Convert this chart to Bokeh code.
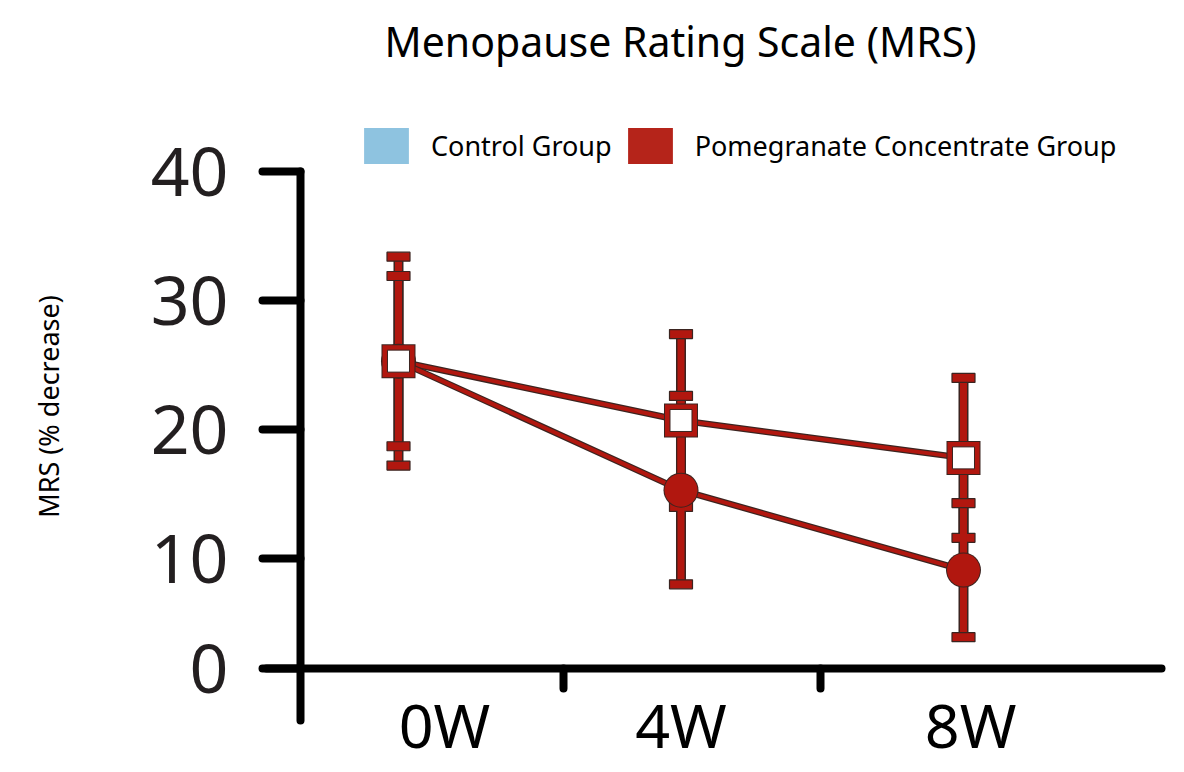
import math
from bokeh.plotting import figure
from bokeh.models import (Range1d, LinearAxis, FixedTicker, Legend, LegendItem,
                          ColumnDataSource, Label)
from bokeh.embed import file_html
from bokeh.resources import INLINE

# ---------------- data ----------------
weeks = ["0W", "4W", "8W"]
week_pos = [0, 1, 2]
control_mean = [25.3, 20.7, 17.8]
control_err = [8.1, 6.7, 6.2]
pom_mean = [25.3, 15.3, 9.1]
pom_err = [6.6, 7.3, 5.2]
y_tick_values = [0, 10, 20, 30, 40]
y_tick_labels = ["0", "10", "20", "30", "40"]
series_names = ["Control Group", "Pomegranate Concentrate Group"]

# ---------------- style / layout ----------------
RED = "#b1170f"
DARK = "#3b2420"
LEGEND_BLUE = "#8ec3e0"
LEGEND_RED = "#b5241a"
FONT = "Noto Sans"
X_AXIS_LEVEL = 1.47      # where the x-axis crosses (drawn as the "0" line)
Y_AXIS_X = -0.347        # where the y-axis stands
NAN = float("nan")

W, H = 1184, 772
p = figure(width=W, height=H, output_backend="svg", toolbar_location=None,
           x_axis_type=None, y_axis_type=None, min_border=0,
           x_range=Range1d(-1.4088, 2.7823), y_range=Range1d(-6.589, 53.256),
           outline_line_color=None)
p.grid.visible = False
p.background_fill_color = "white"

# ---------------- axes ----------------
ytick_pos = [X_AXIS_LEVEL if v == 0 else v for v in y_tick_values]
yaxis = LinearAxis(fixed_location=Y_AXIS_X, bounds=(-2.56, 40),
                   ticker=FixedTicker(ticks=ytick_pos),
                   major_label_overrides={t: l for t, l in zip(ytick_pos, y_tick_labels)},
                   axis_line_width=8, axis_line_color="black", axis_line_cap="round",
                   major_tick_line_width=8, major_tick_line_cap="round",
                   major_tick_out=38, major_tick_in=0, minor_tick_out=0, minor_tick_in=0,
                   major_label_standoff=34,
                   major_label_text_font=FONT, major_label_text_font_size="68px",
                   major_label_text_color="#231f20")
p.add_layout(yaxis, "left")

xaxis = LinearAxis(fixed_location=X_AXIS_LEVEL, bounds=(-0.467, 2.70),
                   ticker=FixedTicker(ticks=[0.584, 1.494]),
                   major_label_overrides={0.584: "", 1.494: ""},
                   axis_line_width=8, axis_line_color="black", axis_line_cap="round",
                   major_tick_line_width=8, major_tick_line_cap="round",
                   major_tick_out=20, major_tick_in=0, minor_tick_out=0, minor_tick_in=0,
                   major_label_text_font_size="1px")
p.add_layout(xaxis, "below")

label_pos = [0.163, 1.0, 2.025]
xlab = LinearAxis(fixed_location=X_AXIS_LEVEL,
                  ticker=FixedTicker(ticks=label_pos),
                  major_label_overrides={t: w for t, w in zip(label_pos, weeks)},
                  axis_line_alpha=0, major_tick_line_alpha=0, minor_tick_line_alpha=0,
                  major_tick_out=0, major_tick_in=0,
                  major_label_standoff=14,
                  major_label_text_font=FONT, major_label_text_font_size="61px",
                  major_label_text_color="black")
p.add_layout(xlab, "below")

# ---------------- series ----------------
def series_source(mean, err):
    return ColumnDataSource(dict(
        x=week_pos, y=mean,
        lo=[m - e for m, e in zip(mean, err)],
        hi=[m + e for m, e in zip(mean, err)]))

src_c = series_source(control_mean, control_err)
src_p = series_source(pom_mean, pom_err)

for src in (src_c, src_p):
    p.segment(x0="x", y0="lo", x1="x", y1="hi", source=src, line_color=DARK, line_width=10)
for src in (src_c, src_p):
    p.segment(x0="x", y0="lo", x1="x", y1="hi", source=src, line_color=RED, line_width=7)
    for end in ("lo", "hi"):
        p.rect(x="x", y=end, width=23, height=9, width_units="screen", height_units="screen",
               source=src, fill_color=RED, line_color=DARK, line_width=1.2)

for src in (src_c, src_p):
    p.line(x="x", y="y", source=src, line_color=DARK, line_width=6.5)
    p.line(x="x", y="y", source=src, line_color=RED, line_width=4)

p.scatter(x="x", y="y", source=src_p, marker="circle", size=35, fill_color=DARK, line_color=None)
p.scatter(x="x", y="y", source=src_p, marker="circle", size=33, fill_color=RED, line_color=None)

p.scatter(x="x", y="y", source=src_c, marker="square", size=34, fill_color=DARK, line_color=None)
p.scatter(x="x", y="y", source=src_c, marker="square", size=32, fill_color=RED, line_color=None)
p.scatter(x="x", y="y", source=src_c, marker="square", size=22, fill_color="white",
          line_color=DARK, line_width=1)

# ---------------- legend ----------------
r_c = p.quad(left=[NAN], right=[NAN], top=[NAN], bottom=[NAN],
             fill_color=LEGEND_BLUE, line_color=None)
r_p = p.quad(left=[NAN], right=[NAN], top=[NAN], bottom=[NAN],
             fill_color=LEGEND_RED, line_color=None)
legend = Legend(items=[LegendItem(label=series_names[0], renderers=[r_c]),
                       LegendItem(label=series_names[1], renderers=[r_p])],
                orientation="horizontal", location=(358, 604),
                glyph_width=56, glyph_height=45, label_standoff=17, spacing=10,
                padding=0, margin=0, border_line_alpha=0, background_fill_alpha=0,
                label_text_font=FONT, label_text_font_size="27px", label_text_color="black")
p.add_layout(legend, "center")

# ---------------- titles ----------------
p.add_layout(Label(x=680, y=732, x_units="screen", y_units="screen",
                   text="Menopause Rating Scale (MRS)", text_align="center",
                   text_baseline="middle", text_font=FONT, text_font_size="41px",
                   text_color="black"))
p.add_layout(Label(x=48, y=366, x_units="screen", y_units="screen",
                   text="MRS (% decrease)", angle=math.pi / 2, text_align="center",
                   text_baseline="middle", text_font=FONT, text_font_size="27px",
                   text_color="black"))

open("out.html", "w").write(file_html(p, INLINE))
